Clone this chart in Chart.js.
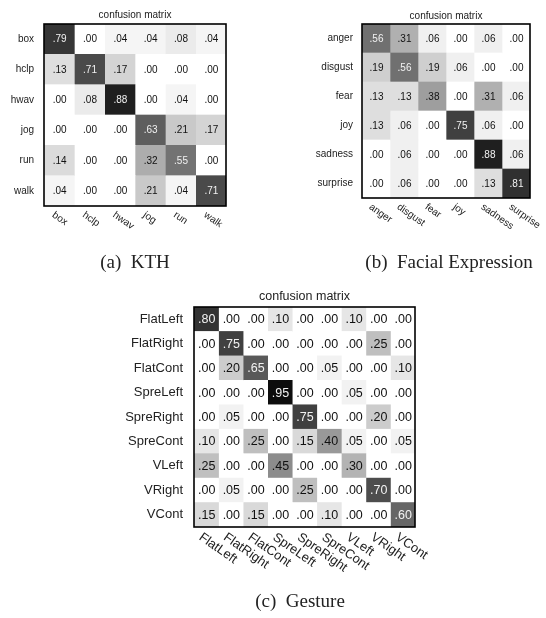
<!DOCTYPE html>
<html><head><meta charset="utf-8">
<script src="https://cdn.jsdelivr.net/npm/chart.js@4/dist/chart.umd.min.js"></script>
<style>
html,body{margin:0;padding:0;background:#fff;}
#wrap{position:relative;width:546px;height:618px;overflow:hidden;background:#fff;}
canvas{position:absolute;left:0;top:0;}
.cap{position:absolute;font-family:"Liberation Serif","Times New Roman",serif;font-size:19px;line-height:22px;color:#222;white-space:pre;transform:translateX(-50%);}
</style></head><body>
<div id="wrap">
<canvas id="c1" width="546" height="618"></canvas>
<canvas id="c2" width="546" height="618"></canvas>
<canvas id="c3" width="546" height="618"></canvas>
<div class="cap" style="left:135px;top:251px">(a)  KTH</div>
<div class="cap" style="left:449px;top:251px">(b)  Facial Expression</div>
<div class="cap" style="left:300px;top:590px">(c)  Gesture</div>
</div>
<script>
const kthLabels = ['box','hclp','hwav','jog','run','walk'];
const kthValues = [
  [.79,.00,.04,.04,.08,.04],
  [.13,.71,.17,.00,.00,.00],
  [.00,.08,.88,.00,.04,.00],
  [.00,.00,.00,.63,.21,.17],
  [.14,.00,.00,.32,.55,.00],
  [.04,.00,.00,.21,.04,.71]
];
const faceLabels = ['anger','disgust','fear','joy','sadness','surprise'];
const faceValues = [
  [.56,.31,.06,.00,.06,.00],
  [.19,.56,.19,.06,.00,.00],
  [.13,.13,.38,.00,.31,.06],
  [.13,.06,.00,.75,.06,.00],
  [.00,.06,.00,.00,.88,.06],
  [.00,.06,.00,.00,.13,.81]
];
const gestLabels = ['FlatLeft','FlatRight','FlatCont','SpreLeft','SpreRight','SpreCont','VLeft','VRight','VCont'];
const gestValues = [
  [.80,.00,.00,.10,.00,.00,.10,.00,.00],
  [.00,.75,.00,.00,.00,.00,.00,.25,.00],
  [.00,.20,.65,.00,.00,.05,.00,.00,.10],
  [.00,.00,.00,.95,.00,.00,.05,.00,.00],
  [.00,.05,.00,.00,.75,.00,.00,.20,.00],
  [.10,.00,.25,.00,.15,.40,.05,.00,.05],
  [.25,.00,.00,.45,.00,.00,.30,.00,.00],
  [.00,.05,.00,.00,.25,.00,.00,.70,.00],
  [.15,.00,.15,.00,.00,.10,.00,.00,.60]
];
const titleText = 'confusion matrix';

const FAMILY = '"Liberation Sans", Arial, Helvetica, sans-serif';
const W = 546, H = 618;

function gray(v){ const g = Math.round(255*(1-v)); return `rgb(${g},${g},${g})`; }
function fmt(v){ return v.toFixed(2).replace(/^0/, ''); }

function makeMatrix(id, labels, values, area, st){
  const plugin = {
    id: 'matrixText',
    afterDraw(chart){
      const ctx = chart.ctx, a = chart.chartArea;
      ctx.save();
      // cell values
      ctx.font = `${st.cell}px ${FAMILY}`;
      ctx.textAlign = 'center'; ctx.textBaseline = 'middle';
      chart.data.datasets.forEach((ds, j) => {
        const meta = chart.getDatasetMeta(j);
        meta.data.forEach((el, i) => {
          const v = values[i][j];
          ctx.fillStyle = v >= 0.5 ? '#f2f2f2' : '#111';
          ctx.fillText(fmt(v), (el.x + el.base)/2 + 0.5, el.y + 0.5);
        });
      });
      // border
      ctx.strokeStyle = '#000'; ctx.lineWidth = 1.6;
      ctx.strokeRect(a.left, a.top, a.right - a.left, a.bottom - a.top);
      // title
      ctx.fillStyle = '#222';
      ctx.font = `${st.title}px ${FAMILY}`;
      ctx.textAlign = 'center'; ctx.textBaseline = 'middle';
      ctx.fillText(titleText, (a.left + a.right)/2, a.top - st.titleGap);
      // column labels, rotated
      const xs = chart.scales.x;
      ctx.font = `${st.label}px ${FAMILY}`;
      ctx.textAlign = 'left'; ctx.textBaseline = 'middle';
      labels.forEach((lab, j) => {
        const cx = xs.getPixelForValue(j + 0.5);
        ctx.save();
        ctx.translate(cx + st.lx, a.bottom + st.ly);
        ctx.rotate(35 * Math.PI / 180);
        ctx.fillText(lab, 0, 0);
        ctx.restore();
      });
      ctx.restore();
    }
  };
  return new Chart(document.getElementById(id), {
    type: 'bar',
    data: {
      labels: labels,
      datasets: labels.map((col, j) => ({
        label: col,
        data: labels.map(() => 1),
        backgroundColor: values.map(row => gray(row[j])),
        borderWidth: 0,
        barPercentage: 1,
        categoryPercentage: 1
      }))
    },
    options: {
      indexAxis: 'y',
      responsive: false,
      animation: false,
      events: [],
      layout: { padding: { left: 0, top: area.t, right: W - area.r, bottom: H - area.b } },
      plugins: { legend: { display: false }, tooltip: { enabled: false }, title: { display: false } },
      scales: {
        x: { stacked: true, min: 0, max: labels.length, display: false },
        y: {
          stacked: true,
          grid: { display: false, drawTicks: false },
          border: { display: false },
          ticks: { padding: st.gap, color: '#222', font: { family: FAMILY, size: st.label } },
          afterFit: (s) => { s.width = area.l; }
        }
      }
    },
    plugins: [plugin]
  });
}

makeMatrix('c1', kthLabels, kthValues, {l:44, t:24, r:226, b:206},
  {cell:10, label:10, title:10, titleGap:9, gap:10, lx:-6, ly:8});
makeMatrix('c2', faceLabels, faceValues, {l:362, t:24, r:530, b:198},
  {cell:10, label:10, title:10, titleGap:8, gap:9, lx:-6, ly:8});
makeMatrix('c3', gestLabels, gestValues, {l:194, t:307, r:415, b:527},
  {cell:12.5, label:13, title:12.5, titleGap:10, gap:11, lx:-6, ly:9});
</script>
</body></html>
